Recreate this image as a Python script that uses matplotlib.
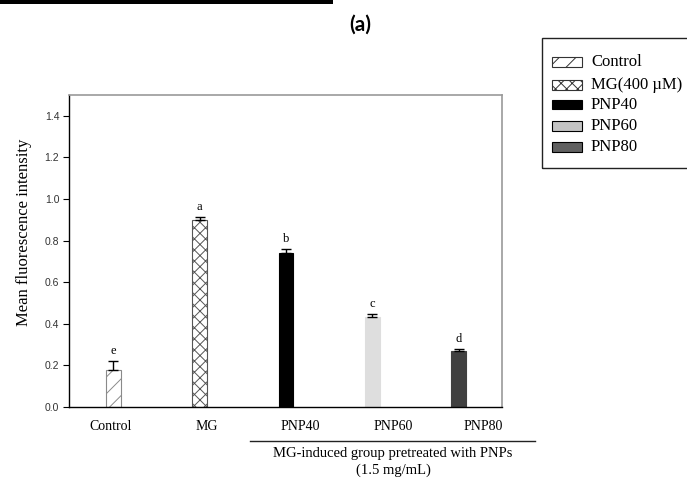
import matplotlib.pyplot as plt
from matplotlib.patches import Rectangle
from matplotlib.lines import Line2D

# mean fluorescence per group, upper error and significance letters
groups = ['Control', 'MG', 'PNP40', 'PNP60', 'PNP80']
legend_labels = ['Control', 'MG(400 \u00b5M)', 'PNP40', 'PNP60', 'PNP80']
means = [0.18, 0.90, 0.74, 0.435, 0.27]
errors = [0.04, 0.015, 0.02, 0.01, 0.01]
letters = ['e', 'a', 'b', 'c', 'd']
y_ticks = [0.0, 0.2, 0.4, 0.6, 0.8, 1.0, 1.2, 1.4]

serif = 'Liberation Serif'
sans = 'Liberation Sans'
plt.rcParams['hatch.linewidth'] = 0.7

# bar styles: (face, edge, hatch, legend face)
styles = [('white', '#8a8a8a', '//', 'white'),
          ('white', '#555555', 'xxx', 'white'),
          ('black', 'black', None, 'black'),
          ('#dedede', '#dedede', None, '#c4c4c4'),
          ('#404040', '#404040', None, '#606060')]

fig = plt.figure(figsize=(6.87, 4.83), dpi=100)
ax = fig.add_axes([0.1004, 0.1573, 0.6303, 0.646])

pos = list(range(len(groups)))
for i in pos:
    face, edge, hatch, _ = styles[i]
    ax.bar(pos[i], means[i], width=0.17, color=face, edgecolor=edge,
           hatch=hatch, linewidth=0.8, zorder=2)
    ax.errorbar(pos[i], means[i], yerr=[[0], [errors[i]]], fmt='none',
                ecolor='black', elinewidth=1, capsize=3.5, capthick=1, zorder=3)
    ax.annotate(letters[i], xy=(pos[i], means[i] + errors[i]),
                xytext=(0, 3), textcoords='offset points', ha='center',
                va='bottom', fontsize=9, family=serif)

ax.set_xlim(-0.516, 4.504)
ax.set_ylim(0, 1.5)
ax.set_yticks(y_ticks)
ax.set_yticklabels(['%.1f' % t for t in y_ticks], fontsize=7.5, family=sans, color='#333333')
ax.tick_params(axis='y', direction='out', length=4, width=0.8, pad=3)

# group names sit a little right of their bars
label_pos = [-0.03, 1.08, 2.16, 3.24, 4.29]
ax.set_xticks(label_pos)
ax.set_xticklabels(groups, fontsize=10, family=serif)
ax.tick_params(axis='x', length=0, pad=9)

for s in ['left', 'bottom']:
    ax.spines[s].set_color('black')
    ax.spines[s].set_linewidth(1)
for s in ['top', 'right']:
    ax.spines[s].set_color('#999999')
    ax.spines[s].set_linewidth(1.2)

ax.set_ylabel('Mean fluorescence intensity', fontsize=12, family=serif)
ax.yaxis.set_label_coords(-0.085, 0.56)

# bracket and caption under the pretreated groups
W, H = 687.0, 483.0
fig.add_artist(Line2D([250 / W, 535 / W], [1 - 441 / H, 1 - 441 / H],
                      color='#222222', lw=1))
fig.text(393 / W, 1 - 453 / H, 'MG-induced group pretreated with PNPs',
         ha='center', va='center', fontsize=10.5, family=serif)
fig.text(393 / W, 1 - 470 / H, '(1.5 mg/mL)', ha='center', va='center',
         fontsize=10.5, family=serif)

# panel letter and rule at the top
fig.add_artist(Rectangle((0, 1 - 4 / H), 333 / W, 4 / H, color='black', lw=0))
fig.text(360 / W, 1 - 25 / H, '(a)', ha='center', va='center', fontsize=15,
         family='Lato', weight='bold')

# legend box
fig.add_artist(Rectangle((542 / W, 1 - 168 / H), 160 / W, 130 / H,
                         facecolor='none', edgecolor='#222222', lw=1))
rows = [62, 85, 105, 126, 147]
for i, lab in enumerate(legend_labels):
    face, edge, hatch, lface = styles[i]
    y = 1 - rows[i] / H
    key_edge = 'black' if hatch is None else '#333333'
    fig.add_artist(Rectangle((552 / W, y - 4.5 / H), 30 / W, 9 / H,
                             facecolor=lface, edgecolor=key_edge, hatch=hatch,
                             lw=0.8))
    fig.text(591 / W, y, lab, ha='left', va='center', fontsize=12, family=serif)

fig.savefig('out.png', dpi=100)
